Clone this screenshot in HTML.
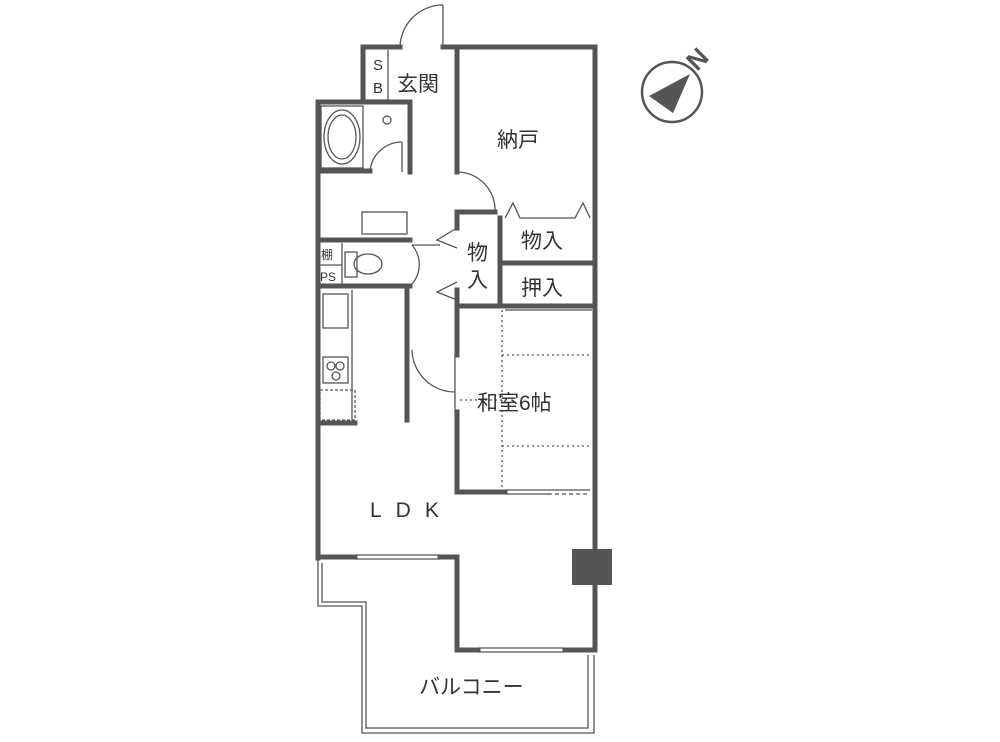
<!DOCTYPE html>
<html><head><meta charset="utf-8"><style>
html,body{margin:0;padding:0;background:#fff;}
svg{display:block}
text{font-family:"Liberation Sans","Noto Sans CJK JP",sans-serif;fill:#333}
</style></head><body>
<svg width="1000" height="742" viewBox="0 0 1000 742" xmlns="http://www.w3.org/2000/svg">
<g stroke="#555" stroke-width="5" fill="none" stroke-linecap="square">
<line x1="595" y1="47" x2="595" y2="550"/>
<line x1="595" y1="585" x2="595" y2="650"/>
<line x1="443" y1="47" x2="595" y2="47"/>
<line x1="363" y1="47" x2="400" y2="47"/>
<line x1="363" y1="47" x2="363" y2="100"/>
<line x1="318" y1="102" x2="410" y2="102"/>
<line x1="318" y1="102" x2="318" y2="558"/>
<line x1="410" y1="102" x2="410" y2="172"/>
<line x1="318" y1="171" x2="370" y2="171"/>
<line x1="318" y1="240" x2="410" y2="240"/>
<line x1="318" y1="286" x2="410" y2="286"/>
<line x1="407" y1="286" x2="407" y2="420"/>
<line x1="318" y1="423" x2="355" y2="423"/>
<line x1="457" y1="47" x2="457" y2="172"/>
<line x1="457" y1="212" x2="495" y2="212"/>
<line x1="457" y1="212" x2="457" y2="228"/>
<line x1="457" y1="290" x2="457" y2="305"/>
<line x1="500" y1="218" x2="500" y2="305"/>
<line x1="457" y1="306" x2="595" y2="306"/>
<line x1="502" y1="263" x2="595" y2="263"/>
<line x1="457" y1="306" x2="457" y2="355"/>
<line x1="457" y1="412" x2="457" y2="492"/>
<line x1="457" y1="492" x2="505" y2="492"/>
<line x1="318" y1="557" x2="355" y2="557"/>
<line x1="440" y1="557" x2="457" y2="557"/>
<line x1="457" y1="557" x2="457" y2="650"/>
<line x1="457" y1="650" x2="478" y2="650"/>
<line x1="565" y1="650" x2="595" y2="650"/>
</g>
<g stroke="#555" stroke-width="1.3" fill="none">
<line x1="443" y1="5" x2="443" y2="47"/>
<path d="M443 5 A43 43 0 0 0 400 47"/>
<path d="M457 172 A38 38 0 0 1 495 212"/>
<line x1="402" y1="142" x2="402" y2="172"/>
<path d="M402 142 A32 32 0 0 0 370 172"/>
<path d="M412 245 A30 30 0 0 1 412 284" />
<line x1="412" y1="245" x2="440" y2="245"/>
<path d="M412 350 A43 43 0 0 0 455 392"/>
<line x1="455" y1="355" x2="455" y2="392"/>
<path d="M457 228 L437 240 L457 248"/>
<path d="M457 282 L437 292 L457 300"/>
<path d="M505 218 L513 203 L520 218 L575 218 L583 203 L590 218"/>
<line x1="388" y1="50" x2="388" y2="100"/>
<line x1="363" y1="100" x2="390" y2="100"/>
<rect x="321" y="106" width="42" height="62"/>
<ellipse cx="342" cy="137" rx="18" ry="27"/>
<ellipse cx="342" cy="137" rx="14" ry="22"/>
<circle cx="387" cy="120" r="4"/>
<rect x="362" y="212" width="45" height="22"/>
<rect x="345" y="252" width="12" height="25"/>
<ellipse cx="368" cy="264" rx="14" ry="10"/>
<line x1="318" y1="265" x2="342" y2="265"/>
<line x1="342" y1="243" x2="342" y2="285"/>
<line x1="352" y1="290" x2="352" y2="420"/>
<rect x="323" y="294" width="25" height="34"/>
<rect x="323" y="357" width="25" height="26"/>
<circle cx="331" cy="366" r="4"/><circle cx="340" cy="366" r="4"/><circle cx="336" cy="376" r="4"/>
<rect x="320" y="390" width="35" height="30" stroke-dasharray="3 2"/>
<line x1="502" y1="310" x2="502" y2="490" stroke-dasharray="2 3"/>
<line x1="502" y1="355" x2="592" y2="355" stroke-dasharray="2 3"/>
<line x1="460" y1="400" x2="502" y2="400" stroke-dasharray="2 3"/>
<line x1="502" y1="446" x2="592" y2="446" stroke-dasharray="2 3"/>
<line x1="505" y1="490" x2="590" y2="490"/>
<line x1="505" y1="494" x2="550" y2="494"/>
<line x1="548" y1="494" x2="590" y2="494" stroke-dasharray="4 3"/>
<line x1="505" y1="310" x2="592" y2="310"/>
<line x1="455" y1="392" x2="455" y2="412"/>
<line x1="355" y1="555" x2="440" y2="555"/><line x1="355" y1="559" x2="440" y2="559"/>
<line x1="478" y1="648" x2="565" y2="648"/><line x1="478" y1="652" x2="565" y2="652"/>
<path d="M318 560 L318 606 L362 606 L362 733 L594 733 L594 655"/>
<path d="M322 563 L322 602 L366 602 L366 728 L588 728 L588 655"/>
</g>
<rect x="572" y="549" width="40" height="36" fill="#555"/>
<circle cx="672" cy="92" r="30" fill="none" stroke="#555" stroke-width="2.5"/>
<polygon points="649,96 690,74 673,113" fill="#555"/>
<text x="0" y="0" font-size="26" font-weight="bold" transform="translate(697,72) rotate(-45)" style="fill:#555">N</text>
<g font-size="21">
<text x="373" y="70" font-size="15">S</text>
<text x="373" y="93" font-size="15">B</text>
<text x="397" y="91">玄関</text>
<text x="497" y="147">納戸</text>
<text x="521" y="248">物入</text>
<text x="521" y="295">押入</text>
<text x="467" y="260">物</text>
<text x="467" y="287">入</text>
<text x="477" y="410">和室6帖</text>
<text x="370" y="517" letter-spacing="14">LDK</text>
<text x="419" y="694">バルコニー</text>
<text x="321" y="259" font-size="12">棚</text>
<text x="320" y="281" font-size="12">PS</text>
</g>
</svg>
</body></html>
